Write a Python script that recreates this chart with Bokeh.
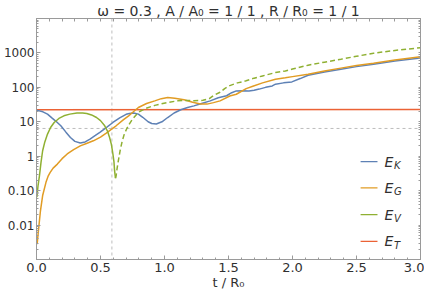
import math
from bokeh.plotting import figure
from bokeh.models import FixedTicker, LinearAxis, LogAxis, Span, CustomJSTickFormatter
from bokeh.core.properties import value
from bokeh.embed import file_html
from bokeh.resources import INLINE

# ---------------- data ----------------
t_K = [0.00, 0.05, 0.086, 0.12, 0.15, 0.19, 0.23, 0.265, 0.30, 0.342, 0.38, 0.418,
       0.46, 0.495, 0.55, 0.597, 0.65, 0.70, 0.725, 0.76, 0.796, 0.83, 0.872, 0.90,
       0.936, 0.98, 1.025, 1.075, 1.127, 1.18, 1.23, 1.29, 1.357, 1.42, 1.485, 1.525,
       1.561, 1.61, 1.66, 1.70, 1.74, 1.79, 1.842, 1.867, 1.93, 1.995, 2.06, 2.122,
       2.25, 2.378, 2.5, 2.633, 2.8, 3.0]
E_K = [21.8, 19.5, 16.7, 13.0, 10.5, 7.65, 5.0, 3.5, 2.7, 2.41, 2.6, 3.15,
       4.0, 4.9, 7.0, 9.55, 13.0, 16.5, 17.4, 18.0, 16.7, 13.5, 10.0, 8.9,
       8.6, 10.0, 13.3, 18.0, 22.3, 26.0, 29.0, 34.0, 40.5, 50.0, 57.0, 70.0,
       79.0, 80.0, 79.0, 82.0, 89.0, 100.0, 110.0, 124.0, 135.0, 144.0, 180.0, 225.0,
       280.0, 336.0, 400.0, 470.0, 580.0, 715.0]

t_G = [0.005, 0.015, 0.031, 0.048, 0.074, 0.092, 0.107, 0.13, 0.163, 0.20, 0.24,
       0.29, 0.342, 0.39, 0.444, 0.50, 0.545, 0.59, 0.622, 0.68, 0.72, 0.75, 0.796,
       0.86, 0.924, 0.975, 1.025, 1.08, 1.153, 1.22, 1.28, 1.332, 1.383, 1.434, 1.51,
       1.561, 1.638, 1.69, 1.766, 1.867, 1.944, 2.0, 2.122, 2.25, 2.378, 2.5, 2.633,
       2.8, 3.0]
E_G = [0.0028, 0.0069, 0.026, 0.072, 0.174, 0.27, 0.34, 0.45, 0.59, 0.85, 1.16,
       1.55, 2.0, 2.35, 2.8, 3.6, 4.7, 6.2, 7.65, 11.5, 14.9, 18.6, 26.0,
       34.0, 40.5, 47.0, 50.6, 48.0, 43.4, 37.0, 33.0, 32.6, 36.0, 40.5, 56.0,
       63.0, 92.0, 108.0, 135.0, 173.0, 190.0, 205.0, 241.0, 300.0, 362.0, 430.0, 503.0,
       620.0, 770.0]

# E_V > 0 (solid)
t_V = [0.003, 0.012, 0.023, 0.035, 0.048, 0.065, 0.086, 0.11, 0.138, 0.175, 0.214,
       0.26, 0.316, 0.36, 0.393, 0.43, 0.469, 0.50, 0.533, 0.555, 0.571, 0.585,
       0.597, 0.605, 0.61, 0.617]
E_V = [0.065, 0.14, 0.27, 0.65, 1.44, 2.6, 4.4, 6.8, 9.55, 12.5, 14.9,
       16.7, 17.9, 17.9, 17.4, 15.8, 13.3, 10.8, 7.65, 5.3, 3.5, 2.2,
       1.16, 0.7, 0.38, 0.23]

# |E_V| where E_V < 0 (dashed)
t_Vn = [0.617, 0.622, 0.628, 0.635, 0.653, 0.67, 0.686, 0.705, 0.725, 0.75, 0.796,
        0.847, 0.924, 0.974, 1.025, 1.102, 1.15, 1.23, 1.30, 1.35, 1.383, 1.434,
        1.47, 1.51, 1.57, 1.638, 1.70, 1.766, 1.867, 1.944, 2.0, 2.122, 2.25, 2.378,
        2.5, 2.633, 2.8, 3.0]
E_Vn = [0.23, 0.27, 0.40, 0.59, 1.44, 2.8, 4.4, 6.3, 8.6, 12.0, 19.0,
        24.0, 30.0, 33.0, 36.5, 40.5, 42.0, 41.0, 42.0, 47.0, 58.0, 72.0,
        92.0, 112.0, 135.0, 155.0, 185.0, 215.0, 269.0, 300.0, 340.0, 440.0, 540.0, 655.0,
        800.0, 980.0, 1180.0, 1420.0]

t_T = [0.0, 3.0]
E_T = [22.3, 22.6]

T_MARK = 0.589   # vertical dashed reference
E_MARK = 6.4     # horizontal dashed reference

TITLE = "ω = 0.3 , A / A₀ = 1 / 1 , R / R₀ = 1 / 1"
XLABEL = "t / R₀"
x_ticks = [0.0, 0.5, 1.0, 1.5, 2.0, 2.5, 3.0]
x_tick_labels = ["0.0", "0.5", "1.0", "1.5", "2.0", "2.5", "3.0"]
y_ticks = [0.01, 0.1, 1, 10, 100, 1000]
y_tick_labels = ["0.01", "0.10", "1", "10", "100", "1000"]
legend_subs = ["K", "G", "V", "T"]

# ---------------- style ----------------
BLUE, ORANGE, GREEN, RED = "#5E81B5", "#E19C24", "#8FB032", "#EB6235"
FRAME = "#9a9a9a"
TEXT = "#303030"
FONT = "DejaVu Sans"
X0, X1 = 0.0, 3.0
Y0, Y1 = 1e-3, 1e4

p = figure(width=424, height=292, x_range=(X0, X1), y_range=(Y0, Y1),
           y_axis_type="log", output_backend="svg", toolbar_location=None,
           title=TITLE, min_border_left=10, min_border_right=4,
           min_border_top=0, min_border_bottom=0)
p.background_fill_color = "white"
p.border_fill_color = "white"
p.outline_line_color = FRAME
p.xgrid.visible = False
p.ygrid.visible = False

p.title.text_font = FONT
p.title.text_font_size = "14px"
p.title.text_font_style = "normal"
p.title.text_color = TEXT
p.title.align = "center"
p.title.standoff = 0

x_minor = [i / 10 for i in range(0, 31)]
y_major_all = [10.0 ** k for k in range(-3, 5)]
y_minor = [m * 10.0 ** k for k in range(-3, 4) for m in range(2, 10)]
xt = FixedTicker(ticks=x_ticks, minor_ticks=x_minor)
yt = FixedTicker(ticks=y_major_all, minor_ticks=y_minor)
# unlabeled tick marks for the top / right frame edges
xt_frame = FixedTicker(ticks=[], minor_ticks=x_minor)
yt_frame = FixedTicker(ticks=[], minor_ticks=y_major_all + y_minor)

fmt_code = """
for (let i = 0; i < tvals.length; i++) {
  if (Math.abs(tvals[i] - tick) <= 1e-9 * Math.max(Math.abs(tvals[i]), 1e-12)) return tlabels[i];
}
return "";
"""
xfmt = CustomJSTickFormatter(args=dict(tvals=x_ticks, tlabels=x_tick_labels), code=fmt_code)
yfmt = CustomJSTickFormatter(args=dict(tvals=y_ticks, tlabels=y_tick_labels), code=fmt_code)

def style_axis(ax, size="13px"):
    ax.axis_line_color = FRAME
    ax.major_tick_line_color = FRAME
    ax.minor_tick_line_color = FRAME
    ax.major_tick_in = 4
    ax.major_tick_out = 0
    ax.minor_tick_in = 2
    ax.minor_tick_out = 0
    ax.major_label_text_font = FONT
    ax.major_label_text_font_size = size
    ax.major_label_text_color = TEXT

xa = p.xaxis[0]
xa.ticker = xt
xa.formatter = xfmt
style_axis(xa, "13px")
xa.major_label_standoff = 3
xa.axis_label = XLABEL
xa.axis_label_text_font = FONT
xa.axis_label_text_font_size = "13px"
xa.axis_label_text_font_style = "normal"
xa.axis_label_text_color = TEXT
xa.axis_label_standoff = 0

ya = p.yaxis[0]
ya.ticker = yt
ya.formatter = yfmt
style_axis(ya, "12px")
ya.major_label_standoff = 2

top = LinearAxis(ticker=xt_frame)
style_axis(top)
top.minor_tick_in = 3
top.major_label_standoff = 0
p.add_layout(top, "above")

right = LogAxis(ticker=yt_frame)
style_axis(right)
right.minor_tick_in = 2
right.major_label_standoff = 0
p.add_layout(right, "right")

# reference lines
p.add_layout(Span(location=T_MARK, dimension="height", line_color="#bdbdbd",
                  line_dash="3 3", line_width=1, level="underlay"))
p.add_layout(Span(location=E_MARK, dimension="width", line_color="#bdbdbd",
                  line_dash="3 3", line_width=1, level="underlay"))

LW = 1.5
p.line(t_T, E_T, line_color=RED, line_width=LW)
p.line(t_K, E_K, line_color=BLUE, line_width=LW)
p.line(t_G, E_G, line_color=ORANGE, line_width=LW)
p.line(t_V, E_V, line_color=GREEN, line_width=LW)
p.line(t_Vn, E_Vn, line_color=GREEN, line_width=LW, line_dash="5 3")

# manual legend (positions as fractions of the frame)
LEG_LINE_FX = (0.844, 0.888)
LEG_TEXT_FX = 0.906
LEG_ROW_FY = [0.406, 0.2975, 0.186, 0.0756]
lo, hi = math.log10(Y0), math.log10(Y1)
ly = [10 ** (lo + f * (hi - lo)) for f in LEG_ROW_FY]
lx0 = [X0 + LEG_LINE_FX[0] * (X1 - X0)] * 4
lx1 = [X0 + LEG_LINE_FX[1] * (X1 - X0)] * 4
ltx = [X0 + LEG_TEXT_FX * (X1 - X0)] * 4
p.segment(x0=lx0, y0=ly, x1=lx1, y1=ly, line_color=[BLUE, ORANGE, GREEN, RED], line_width=1.2)
p.text(x=ltx, y=ly, text=["E"] * 4, text_font=value(FONT), text_font_size="14px",
       text_font_style="italic", text_color=TEXT, text_baseline="middle", text_align="left")
p.text(x=ltx, y=ly, text=legend_subs, text_font=value(FONT), text_font_size="10px",
       text_font_style="italic", text_color=TEXT, text_baseline="middle", text_align="left",
       x_offset=9.5, y_offset=4)

open("out.html", "w").write(file_html(p, INLINE))
